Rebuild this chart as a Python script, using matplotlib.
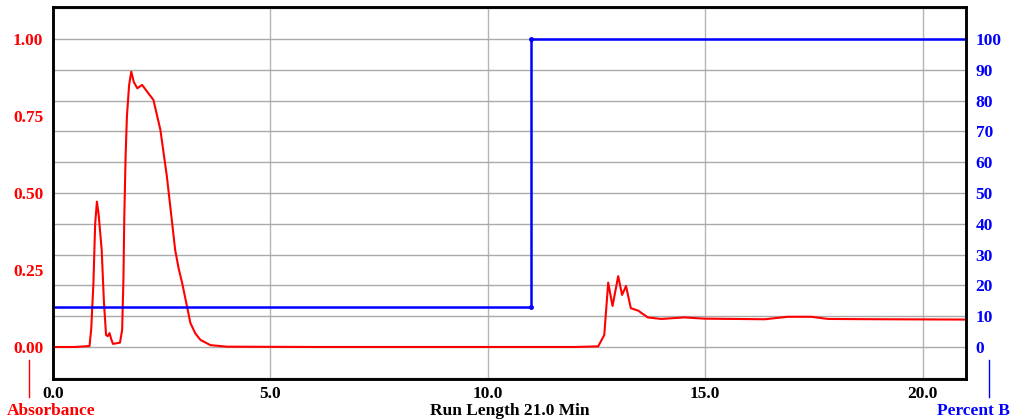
import matplotlib
matplotlib.use("Agg")
import matplotlib.pyplot as plt
from matplotlib.lines import Line2D
from matplotlib.ticker import MultipleLocator

# Absorbance trace (minutes, AU)
time_min = [0.0, 0.5, 0.84, 0.88, 0.93, 0.97, 1.01, 1.05, 1.12, 1.17, 1.22, 1.26, 1.30,
            1.34, 1.38, 1.54, 1.59, 1.62, 1.64, 1.67, 1.70, 1.75, 1.80, 1.86, 1.94,
            2.05, 2.14, 2.31, 2.47, 2.62, 2.74, 2.81, 2.89, 2.97, 3.07, 3.16, 3.27,
            3.39, 3.62, 4.0, 6.0, 8.0, 10.0, 12.0,
            12.54, 12.68, 12.77, 12.87, 13.00, 13.09, 13.18, 13.29, 13.46, 13.68,
            13.99, 14.52, 14.98, 16.37, 16.90, 17.44, 17.83, 19.0, 21.0]
absorbance = [0.0, 0.0, 0.003, 0.06, 0.208, 0.40, 0.472, 0.43, 0.315, 0.15, 0.039, 0.035, 0.045,
              0.025, 0.010, 0.014, 0.055, 0.22, 0.423, 0.62, 0.748, 0.85, 0.894, 0.86, 0.840,
              0.851, 0.834, 0.802, 0.705, 0.553, 0.403, 0.315, 0.255, 0.208, 0.14, 0.078, 0.045,
              0.023, 0.006, 0.001, 0.0, 0.0, 0.0, 0.0,
              0.002, 0.039, 0.209, 0.133, 0.230, 0.169, 0.198, 0.126, 0.118, 0.096,
              0.091, 0.096, 0.092, 0.090, 0.098, 0.098, 0.091, 0.090, 0.089]

# Gradient program (%B)
grad_time = [0.0, 11.0, 11.0, 21.0]
percent_b = [13, 13, 100, 100]

left_ticks = [0.0, 0.25, 0.5, 0.75, 1.0]
right_ticks = [0, 10, 20, 30, 40, 50, 60, 70, 80, 90, 100]
x_ticks = [0.0, 5.0, 10.0, 15.0, 20.0]

plt.rcParams["font.family"] = ["Liberation Serif", "DejaVu Serif"]
plt.rcParams["font.weight"] = "bold"

W, H = 1015, 420
fig = plt.figure(figsize=(W / 100, H / 100), dpi=100)
ax = fig.add_axes([53 / W, 1 - 379 / H, 913 / W, 372 / H])
ax2 = ax.twinx()

ax.plot(time_min, absorbance, color="#ff0000", lw=1.5)
ax2.plot(grad_time, percent_b, color="#0000ff", lw=1.8)
ax2.plot(grad_time[1:3], percent_b[1:3], "o", color="#0000ff", ms=2.5)

ax.set_xlim(0, 21.0)
ax.set_ylim(-0.104, 1.104)
ax2.set_ylim(-10.4, 110.4)

ax.set_xticks(x_ticks)
ax.set_xticklabels([f"{v:.1f}" for v in x_ticks], fontsize=12.5, fontweight="bold")
ax.set_yticks(left_ticks)
ax.set_yticklabels([f"{v:.2f}" for v in left_ticks], color="#ff0000",
                   fontsize=12.5, fontweight="bold")
ax2.set_yticks(right_ticks)
ax2.set_yticklabels([str(v) for v in right_ticks], color="#0000ff",
                    fontsize=12.5, fontweight="bold")

ax.tick_params(axis="y", length=0, pad=7)
ax.tick_params(axis="x", length=0, pad=5)
ax2.tick_params(axis="y", length=0, pad=7)

# grid follows the %B divisions
ax.yaxis.set_minor_locator(MultipleLocator(0.1))
ax.yaxis.remove_overlapping_locs = False
ax.tick_params(axis="y", which="minor", length=0)
ax.yaxis.grid(True, which="minor", color="#aaaaaa", lw=1)
ax.xaxis.grid(True, which="major", color="#b5b5b5", lw=1)
ax.set_axisbelow(True)

for a in (ax, ax2):
    for s in a.spines.values():
        s.set_linewidth(1.8)
        s.set_color("black")

# axis captions along the bottom
fig.add_artist(Line2D([29 / W, 29 / W], [1 - 360 / H, 1 - 397 / H], color="#ff0000", lw=1,
                      transform=fig.transFigure))
fig.add_artist(Line2D([989 / W, 989 / W], [1 - 360 / H, 1 - 397 / H], color="#0000ff", lw=1,
                      transform=fig.transFigure))
fig.text(7 / W, 1 - 411 / H, "Absorbance", color="#ff0000", fontsize=12.5,
         fontweight="bold", ha="left", va="center")
fig.text(510 / W, 1 - 411 / H, "Run Length 21.0 Min", color="black", fontsize=12.5,
         fontweight="bold", ha="center", va="center")
fig.text(1010 / W, 1 - 411 / H, "Percent B", color="#0000ff", fontsize=12.5,
         fontweight="bold", ha="right", va="center")

fig.savefig("out.png", dpi=100)
